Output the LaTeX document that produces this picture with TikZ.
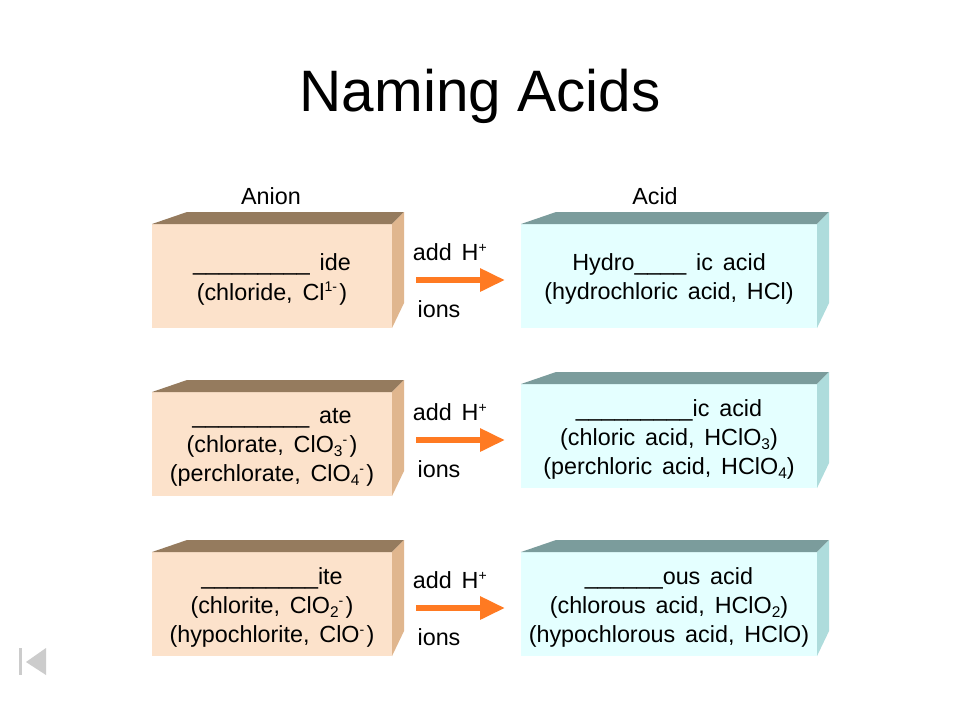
\documentclass[tikz,border=0pt]{standalone}
\usepackage{fontspec}
\setmainfont{Liberation Sans}
\usepackage{xcolor}
\usetikzlibrary{positioning,arrows.meta}
\definecolor{anion-front}{HTML}{FCE2CB}
\definecolor{anion-top}{HTML}{957B5E}
\definecolor{anion-side}{HTML}{E0B68E}
\definecolor{acid-front}{HTML}{E4FFFF}
\definecolor{acid-top}{HTML}{7B9C9C}
\definecolor{acid-side}{HTML}{AEDCDC}
\definecolor{arrow-a}{HTML}{FF7A22}
\definecolor{nav-a}{HTML}{CCCCCC}
\newcommand{\sub}[1]{\raisebox{-0.35ex}{\fontsize{11}{11}\selectfont #1}}
\newcommand{\sups}[1]{\raisebox{0.65ex}{\fontsize{10}{10}\selectfont #1\,}}
\newcommand{\blank}[1]{\foreach \n in {1,...,#1}{\_}}

\begin{document}
\begin{tikzpicture}
[x=0.25mm, y=-0.25mm,
box-a/.style={rectangle, inner sep=0pt, outer sep=0pt, minimum height=26mm},
anion-a/.style={box-a, fill=anion-front, minimum width=60mm},
acid-a/.style={box-a, fill=acid-front, minimum width=74mm},
text-a/.style={inner sep=0pt, font=\fontsize{16.6}{20.7}\selectfont, execute at begin node={\spaceskip=7pt\relax}},
text-b/.style={text-a, align=center, yshift=-0.85mm},
add-arrow/.style={-{Triangle[length=6.25mm, width=5.5mm]}, line width=1.5mm, arrow-a},]
\useasboundingbox [fill=white] (0,0) rectangle (960,720);
\node (title) [inner sep=0pt, font=\fontsize{41.6}{50}\selectfont] at (480,96) {Naming Acids};
\node (head-anion) [text-a] at (271,196) {Anion};
\node (head-acid)  [text-a] at (655,196) {Acid};
% boxes
\node (anion-1) [anion-a, anchor=north west] at (152,224) {};
\node (anion-2) [anion-a, below = 16mm of anion-1] {};
\node (anion-3) [anion-a, below = 14mm of anion-2] {};
\node (acid-1) [acid-a, right = 32.25mm of anion-1] {};
\node (acid-2) [acid-a, below = 14mm of acid-1] {};
\node (acid-3) [acid-a, below = 16mm of acid-2] {};
\foreach \b/\c in {anion-1/anion, anion-2/anion, anion-3/anion, acid-1/acid, acid-2/acid, acid-3/acid} {
  \fill [\c-top] (\b.north west) -- ++(35,-12) -- ([shift={(12,-12)}]\b.north east) -- (\b.north east) -- cycle;
  \fill [\c-side] (\b.north east) -- ++(12,-12) -- ([shift={(12,-25)}]\b.south east) -- (\b.south east) -- cycle;
}
% box texts
\node (anion-1-text) [text-b] at (anion-1) {\blank{9} ide\\(chloride, Cl\sups{1-})};
\node (anion-2-text) [text-b] at (anion-2) {\blank{9} ate\\(chlorate, ClO\sub{3}\sups{-})\\(perchlorate, ClO\sub{4}\sups{-})};
\node (anion-3-text) [text-b] at (anion-3) {\blank{9}ite\\(chlorite, ClO\sub{2}\sups{-})\\(hypochlorite, ClO\sups{-})};
\node (acid-1-text) [text-b] at (acid-1) {Hydro\blank{4} ic acid\\(hydrochloric acid, HCl)};
\node (acid-2-text) [text-b] at (acid-2) {\blank{9}ic acid\\(chloric acid, HClO\sub{3})\\(perchloric acid, HClO\sub{4})};
\node (acid-3-text) [text-b] at (acid-3) {\blank{6}ous acid\\(chlorous acid, HClO\sub{2})\\(hypochlorous acid, HClO)};
% arrows
\foreach \i/\yadd/\yarrow/\yions in {1/252/280/309, 2/412/440/469, 3/580/608/637} {
  \node (add-\i) [text-a] at (451,\yadd) {add H\sups{+}};
  \node (ions-\i) [text-a] at (439,\yions) {ions};
  \coordinate (from-\i) at (416,\yarrow);
  \coordinate (to-\i) at (505,\yarrow);
  \draw [add-arrow] (from-\i) -- (to-\i);
}
% back button
\fill [nav-a] (18.5,648) rectangle (21.5,675);
\fill [nav-a] (26,662) -- (46,648) -- (46,675) -- cycle;
\end{tikzpicture}
\end{document}
